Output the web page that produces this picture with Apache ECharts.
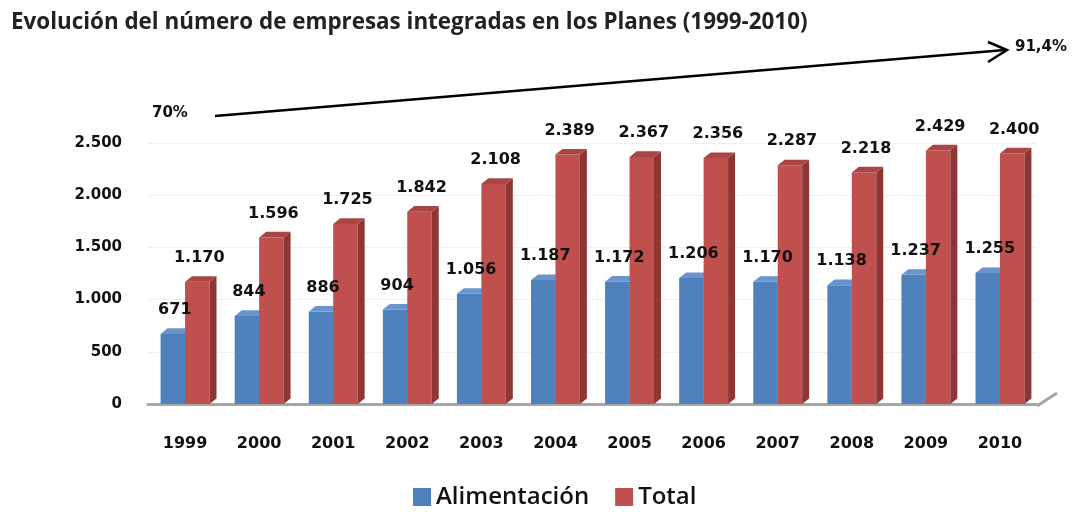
<!DOCTYPE html>
<html>
<head>
<meta charset="utf-8">
<script src="https://cdn.jsdelivr.net/npm/echarts@6/dist/echarts.min.js"></script>
<style>
html, body { margin: 0; padding: 0; background: #fff; }
#main { width: 1073px; height: 512px; }
</style>
</head>
<body>
<div id="main"></div>
<script>
var years = ['1999', '2000', '2001', '2002', '2003', '2004', '2005', '2006', '2007', '2008', '2009', '2010'];
var alimentacion = [671, 844, 886, 904, 1056, 1187, 1172, 1206, 1170, 1138, 1237, 1255];
var total = [1170, 1596, 1725, 1842, 2108, 2389, 2367, 2356, 2287, 2218, 2429, 2400];
var yTicks = [0, 500, 1000, 1500, 2000, 2500];

// colores de las caras: frente, lado, tapa
var colBlue = ['#4f81bd', '#3b6496', '#6a95cc'];
var colRed = ['#c0504d', '#8e3633', '#a94643'];

function fmt(n) {
    return String(n).replace(/\B(?=(\d{3})+(?!\d))/g, '.');
}

function barX(side, api) {
    var p = api.coord([api.value(0), api.value(1)]);
    var w = api.size([1, 0])[0] * 0.33;
    return { x: side === 0 ? p[0] - w : p[0], top: p[1], w: w };
}

// barra con efecto 3D; side = 0 izquierda, 1 derecha
function bar3d(side, cols) {
    return function (params, api) {
        var b = barX(side, api);
        var bot = api.coord([api.value(0), 0])[1];
        var x = b.x, w = b.w, top = b.top;
        var d = 7, dy = 5.6;
        return {
            type: 'group',
            children: [{
                type: 'rect',
                shape: { x: x, y: top, width: w, height: bot - top },
                style: { fill: cols[0] }
            }, {
                type: 'polygon',
                shape: { points: [[x + w, top], [x + w + d, top - dy], [x + w + d, bot - dy], [x + w, bot]] },
                style: { fill: cols[1] }
            }, {
                type: 'polygon',
                shape: { points: [[x, top], [x + d, top - dy], [x + w + d, top - dy], [x + w, top]] },
                style: { fill: cols[2] }
            }]
        };
    };
}

// etiquetas encima de todas las barras
function labels(side) {
    return function (params, api) {
        var b = barX(side, api);
        return {
            type: 'text',
            x: b.x + b.w / 2 + 2,
            y: b.top - 16,
            style: {
                text: fmt(api.value(1)),
                fill: '#111',
                font: 'bold 16px "DejaVu Sans"',
                align: 'center',
                verticalAlign: 'bottom'
            }
        };
    };
}

var myChart = echarts.init(document.getElementById('main'));
var option = {
    backgroundColor: '#fff',
    animation: false,
    title: {
        text: 'Evolución del número de empresas integradas en los Planes (1999-2010)',
        left: 6,
        top: 7,
        textStyle: { fontFamily: 'Open Sans', fontWeight: 'bold', fontSize: 22.4, color: '#222' }
    },
    grid: { left: 148, right: 36, top: 143, bottom: 108 },
    legend: {
        bottom: -2,
        left: 408,
        itemWidth: 18,
        itemHeight: 18,
        itemGap: 26,
        textStyle: { fontFamily: 'Open Sans', fontSize: 24, fontWeight: 600, color: '#111' },
        data: [
            { name: 'Alimentación', icon: 'rect', itemStyle: { color: colBlue[0] } },
            { name: 'Total', icon: 'rect', itemStyle: { color: colRed[0] } }
        ]
    },
    xAxis: {
        type: 'category',
        data: years,
        offset: 3,
        axisTick: { show: false },
        axisLine: { lineStyle: { color: '#a6a6a6', width: 3 } },
        axisLabel: { margin: 29, fontFamily: 'DejaVu Sans', fontWeight: 'bold', fontSize: 16, color: '#111' }
    },
    yAxis: {
        type: 'value',
        min: 0,
        max: 2500,
        interval: 500,
        axisLine: { show: false },
        axisTick: { show: false },
        splitLine: { lineStyle: { color: '#f0f0f0' } },
        axisLabel: {
            margin: 26,
            fontFamily: 'DejaVu Sans',
            fontWeight: 'bold',
            fontSize: 15,
            color: '#111',
            formatter: function (v) { return yTicks.indexOf(v) >= 0 ? fmt(v) : ''; }
        }
    },
    graphic: [
        { type: 'line', shape: { x1: 1037, y1: 406, x2: 1057, y2: 393 }, style: { stroke: '#a6a6a6', lineWidth: 3 } },
        { type: 'line', shape: { x1: 215, y1: 116, x2: 1005, y2: 50 }, style: { stroke: '#000', lineWidth: 2.5 } },
        { type: 'polyline', shape: { points: [[988, 42], [1007, 50], [988, 62]] }, style: { stroke: '#000', lineWidth: 2.5, fill: null } },
        { type: 'text', x: 152, y: 106, style: { text: '70%', font: 'bold 15px "DejaVu Sans"', fill: '#111' } },
        { type: 'text', x: 1015, y: 40, style: { text: '91,4%', font: 'bold 15px "DejaVu Sans"', fill: '#111' } }
    ],
    series: [{
        name: 'Alimentación',
        type: 'custom',
        renderItem: bar3d(0, colBlue),
        itemStyle: { color: colBlue[0] },
        encode: { x: 0, y: 1 },
        data: years.map(function (y, i) { return [i, alimentacion[i]]; }),
        z: 2
    }, {
        name: 'Total',
        type: 'custom',
        renderItem: bar3d(1, colRed),
        itemStyle: { color: colRed[0] },
        encode: { x: 0, y: 1 },
        data: years.map(function (y, i) { return [i, total[i]]; }),
        z: 3
    }, {
        type: 'custom',
        renderItem: labels(0),
        encode: { x: 0, y: 1 },
        data: years.map(function (y, i) { return [i, alimentacion[i]]; }),
        z: 10
    }, {
        type: 'custom',
        renderItem: labels(1),
        encode: { x: 0, y: 1 },
        data: years.map(function (y, i) { return [i, total[i]]; }),
        z: 10
    }]
};
myChart.setOption(option);
</script>
</body>
</html>
